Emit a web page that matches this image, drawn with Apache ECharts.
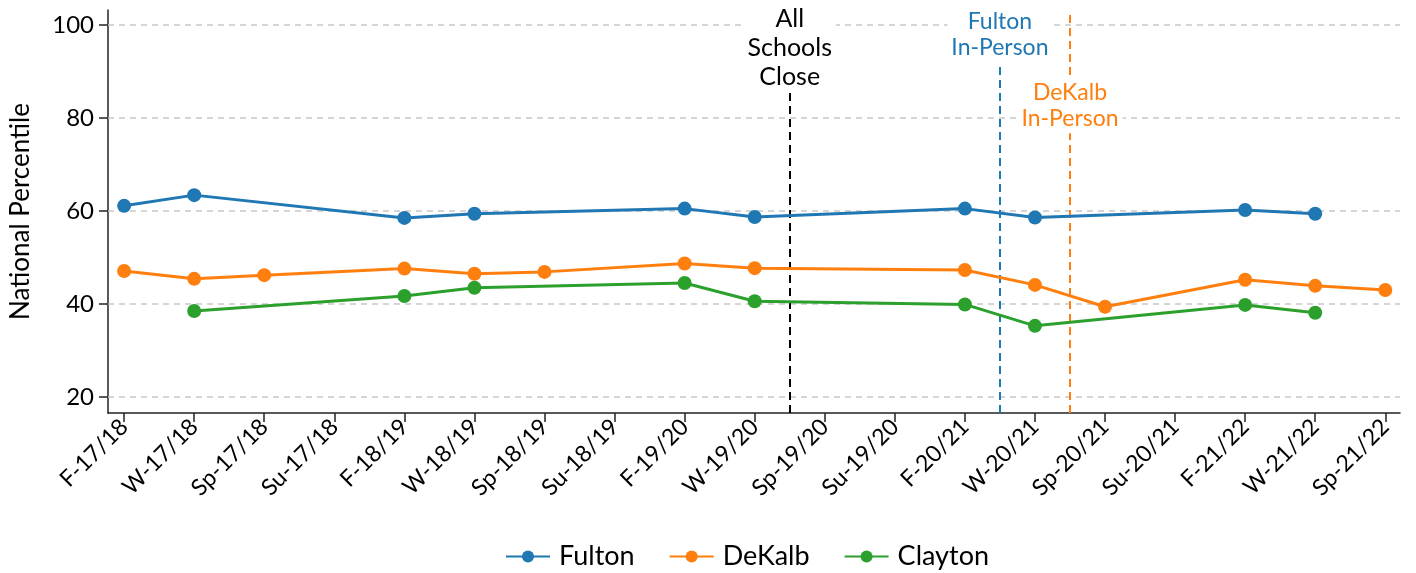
<!DOCTYPE html>
<html>
<head>
<meta charset="utf-8">
<script src="https://cdn.jsdelivr.net/npm/echarts@6/dist/echarts.min.js"></script>
<style>
  html, body { margin: 0; padding: 0; background: #fff; }
  #chart { width: 1416px; height: 573px; }
</style>
</head>
<body>
<div id="chart"></div>
<script>
const terms = [
  "F-17/18", "W-17/18", "Sp-17/18", "Su-17/18",
  "F-18/19", "W-18/19", "Sp-18/19", "Su-18/19",
  "F-19/20", "W-19/20", "Sp-19/20", "Su-19/20",
  "F-20/21", "W-20/21", "Sp-20/21", "Su-20/21",
  "F-21/22", "W-21/22", "Sp-21/22"
];
const fulton  = [61.1, 63.4, null, null, 58.5, 59.4, null, null, 60.5, 58.7, null, null, 60.5, 58.6, null, null, 60.2, 59.4, null];
const dekalb  = [47.1, 45.4, 46.2, null, 47.6, 46.5, 46.9, null, 48.7, 47.7, null, null, 47.3, 44.1, 39.4, null, 45.2, 43.9, 43.0];
const clayton = [null, 38.5, null, null, 41.7, 43.5, null, null, 44.5, 40.6, null, null, 39.9, 35.3, null, null, 39.8, 38.1, null];
const yTicks = [20, 40, 60, 80, 100];
const events = [
  { name: "All\nSchools\nClose", at: 9.5, color: "#000000" },
  { name: "Fulton\nIn-Person", at: 12.5, color: "#1f77b4" },
  { name: "DeKalb\nIn-Person", at: 13.5, color: "#ff7f0e" }
];

const colors = ["#1f77b4", "#ff7f0e", "#2ca02c"];
const font = "Lato, 'Open Sans', sans-serif";
const yMin = 16.56, yMax = 103.2;
const xMin = -0.23, xMax = 18.21;

function pts(arr) {
  const out = [];
  arr.forEach((v, i) => { if (v != null) out.push([i, v]); });
  return out;
}

function lineSeries(name, arr, color) {
  return {
    name, type: "line", data: pts(arr),
    symbol: "circle", symbolSize: 14,
    lineStyle: { width: 3, color }, itemStyle: { color },
    z: 5
  };
}

const chart = echarts.init(document.getElementById("chart"), null, { renderer: "canvas" });
chart.setOption({
  backgroundColor: "#fff",
  animation: false,
  textStyle: { fontFamily: font, color: "#000" },
  color: colors,
  grid: { left: 108, right: 16, top: 10, bottom: 160, containLabel: false, outerBoundsMode: "none" },
  legend: {
    top: 538, left: 500,
    itemWidth: 44, itemHeight: 15, itemGap: 34,
    textStyle: { fontSize: 27, fontFamily: font, color: "#000", padding: [0, 0, 0, 4] },
    data: ["Fulton", "DeKalb", "Clayton"]
  },
  xAxis: {
    type: "value", min: xMin, max: xMax,
    axisLine: { onZero: false, lineStyle: { color: "#222", width: 1.5 } },
    axisTick: { show: true, customValues: terms.map((_, i) => i), length: 9, lineStyle: { color: "#222", width: 1.5 } },
    axisLabel: {
      customValues: terms.map((_, i) => i),
      formatter: (v) => terms[Math.round(v)] ?? "",
      rotate: 45, fontSize: 23, color: "#000", margin: 10, fontFamily: font
    },
    splitLine: { show: false }
  },
  yAxis: {
    type: "value", min: yMin, max: yMax,
    name: "National Percentile", nameLocation: "middle", nameGap: 74,
    nameTextStyle: { fontSize: 26, color: "#000", fontFamily: font },
    axisLine: { show: true, onZero: false, lineStyle: { color: "#222", width: 1.5 } },
    axisTick: { show: true, customValues: yTicks, length: 9, lineStyle: { color: "#222", width: 1.5 } },
    axisLabel: { customValues: yTicks, fontSize: 24, color: "#000", margin: 14, fontFamily: font },
    splitLine: { show: false }
  },
  series: [
    lineSeries("Fulton", fulton, colors[0]),
    lineSeries("DeKalb", dekalb, colors[1]),
    lineSeries("Clayton", clayton, colors[2]),
    {
      name: "grid", type: "line", data: [], z: 1,
      markLine: {
        silent: true, symbol: "none",
        lineStyle: { color: "#c8c8c8", type: [6, 5], width: 1.5 },
        label: { show: false },
        data: yTicks.map((t) => [{ coord: [xMin, t] }, { coord: [xMax, t] }])
      }
    },
    {
      name: "events", type: "line", data: [], z: 3,
      markLine: {
        silent: true, symbol: "none",
        data: [
          [
            { coord: [events[0].at, yMin], lineStyle: { color: events[0].color, type: [8, 5], width: 2 } },
            { coord: [events[0].at, 85.4], label: { show: true, position: "end", formatter: events[0].name, color: events[0].color, fontSize: 25, lineHeight: 29, fontFamily: font, backgroundColor: "#fff", padding: [0, 4], distance: 1 } }
          ],
          [
            { coord: [events[1].at, yMin], lineStyle: { color: events[1].color, type: [8, 5], width: 2 } },
            { coord: [events[1].at, 91.8], label: { show: true, position: "end", formatter: events[1].name, color: events[1].color, fontSize: 23, lineHeight: 26, fontFamily: font, backgroundColor: "#fff", padding: [0, 4], distance: 2 } }
          ],
          [
            { coord: [events[2].at, yMin], lineStyle: { color: events[2].color, type: [8, 5], width: 2 } },
            { coord: [events[2].at, yMax], label: { show: false } }
          ]
        ]
      },
      markPoint: {
        silent: true, symbol: "circle", symbolSize: 0,
        label: {
          show: true, position: "inside", formatter: events[2].name,
          color: events[2].color, fontSize: 23, lineHeight: 26, fontFamily: font,
          backgroundColor: "#fff", padding: [2, 4]
        },
        data: [{ coord: [events[2].at, 82.7] }]
      }
    }
  ]
});
</script>
</body>
</html>
